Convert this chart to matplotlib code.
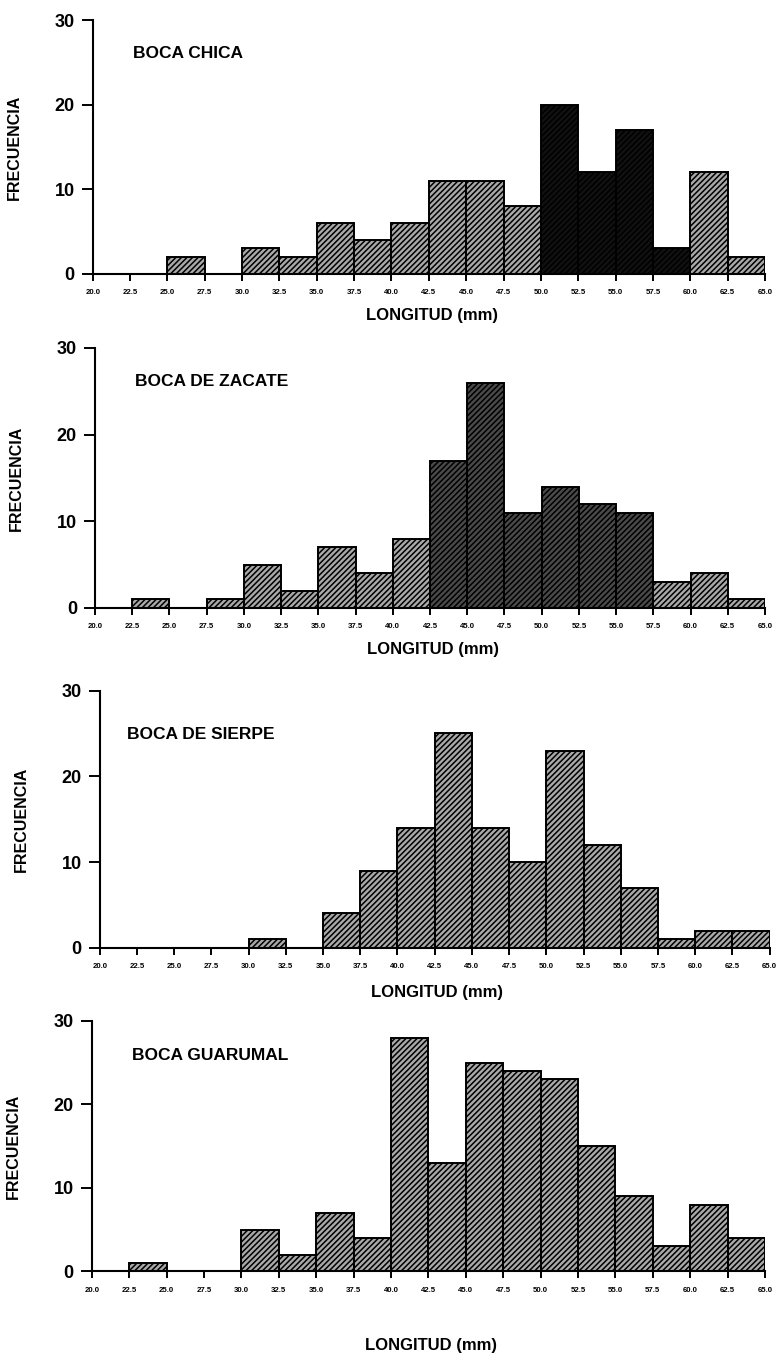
import numpy as np
import matplotlib.pyplot as plt

# bin edges (mm) and tick labels shared by all four histograms
bin_edges = [20.0, 22.5, 25.0, 27.5, 30.0, 32.5, 35.0, 37.5, 40.0, 42.5,
             45.0, 47.5, 50.0, 52.5, 55.0, 57.5, 60.0, 62.5, 65.0]
tick_labels = ["20.0", "22.5", "25.0", "27.5", "30.0", "32.5", "35.0", "37.5",
               "40.0", "42.5", "45.0", "47.5", "50.0", "52.5", "55.0", "57.5",
               "60.0", "62.5", "65.0"]

sites = ["BOCA CHICA", "BOCA DE ZACATE", "BOCA DE SIERPE", "BOCA GUARUMAL"]

boca_chica = [0, 0, 2, 0, 3, 2, 6, 4, 6, 11, 11, 8, 20, 12, 17, 3, 12, 2]
boca_zacate = [0, 1, 0, 1, 5, 2, 7, 4, 8, 17, 26, 11, 14, 12, 11, 3, 4, 1]
boca_sierpe = [0, 0, 0, 0, 1, 0, 4, 9, 14, 25, 14, 10, 23, 12, 7, 1, 2, 2]
boca_guarumal = [0, 1, 0, 0, 5, 2, 7, 4, 28, 13, 25, 24, 23, 15, 9, 3, 8, 4]

counts = [boca_chica, boca_zacate, boca_sierpe, boca_guarumal]

# layout (figure fractions)
axes_rects = [
    [0.119, 0.798, 0.863, 0.187],
    [0.122, 0.551, 0.860, 0.192],
    [0.128, 0.300, 0.860, 0.190],
    [0.118, 0.061, 0.864, 0.185],
]
xlabel_y = [-0.138, -0.131, -0.143, -0.267]
title_xy = [(0.06, 0.87), (0.06, 0.87), (0.04, 0.83), (0.06, 0.86)]

# the print came out much darker on some bars
dark_bins = {0: {12, 13, 14, 15}, 1: {9, 10, 11, 12, 13, 14}}

plt.rcParams["font.family"] = ["Liberation Sans", "DejaVu Sans"]
plt.rcParams["font.weight"] = "bold"
plt.rcParams["hatch.linewidth"] = 1.1

fig = plt.figure(figsize=(7.79, 13.54), dpi=100)

left_edges = np.array(bin_edges[:-1])
width = bin_edges[1] - bin_edges[0]

for i, (site, vals) in enumerate(zip(sites, counts)):
    ax = fig.add_axes(axes_rects[i])
    faces = []
    for j in range(len(vals)):
        if j in dark_bins.get(i, set()):
            faces.append("#111111" if i == 0 else "#4a4a4a")
        else:
            faces.append("#a9a9a9")
    ax.bar(left_edges, vals, width=width, align="edge", color=faces,
           edgecolor="black", linewidth=1.4, hatch="//////", zorder=2)

    ax.set_xlim(bin_edges[0], bin_edges[-1])
    ax.set_ylim(0, 30)
    ax.set_xticks(bin_edges)
    ax.set_xticklabels(tick_labels, fontsize=5.6, fontweight="bold")
    ax.set_yticks([0, 10, 20, 30])
    ax.tick_params(axis="y", labelsize=13, length=8, width=1.4, pad=5)
    ax.tick_params(axis="x", length=5, width=1.4, pad=6)
    for lab in ax.get_yticklabels():
        lab.set_fontweight("bold")

    for side in ("top", "right"):
        ax.spines[side].set_visible(False)
    for side in ("left", "bottom"):
        ax.spines[side].set_linewidth(1.5)

    ax.set_ylabel("FRECUENCIA", fontsize=11.5, fontweight="bold")
    ax.yaxis.set_label_coords(-0.106, 0.5)
    ax.set_xlabel("LONGITUD (mm)", fontsize=12, fontweight="bold")
    ax.xaxis.set_label_coords(0.504, xlabel_y[i])

    tx, ty = title_xy[i]
    ax.text(tx, ty, site, transform=ax.transAxes, fontsize=12.5,
            fontweight="bold", ha="left", va="center")

fig.savefig("out.png", dpi=100)
